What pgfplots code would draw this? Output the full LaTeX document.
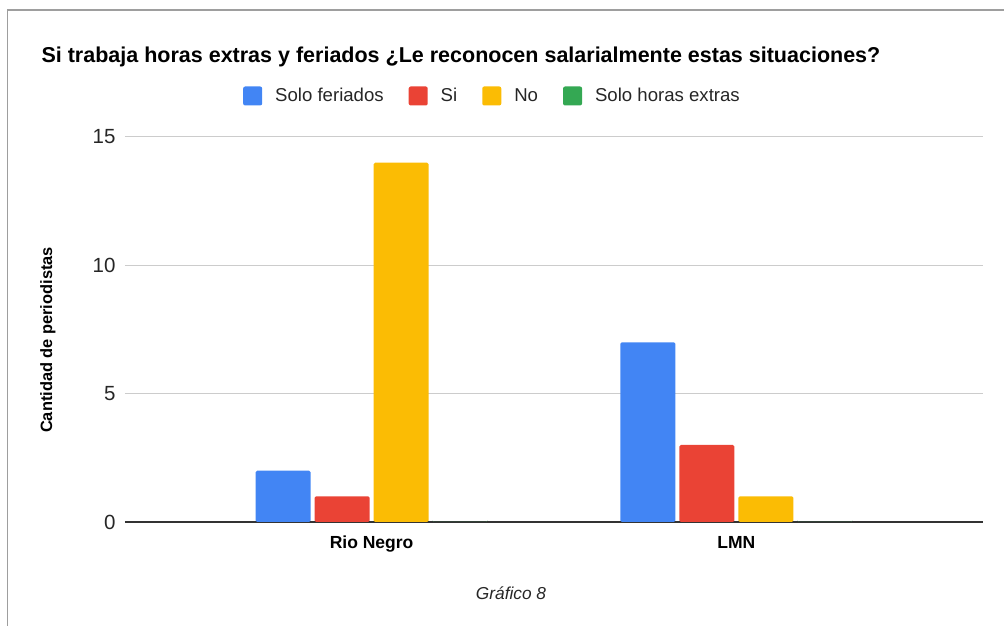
\documentclass[border=0pt]{standalone}
\usepackage{fontspec}
\setmainfont{Liberation Sans}
\usepackage{pgfplots}
\pgfplotsset{compat=1.18}

\definecolor{cblue}{HTML}{4285F4}
\definecolor{cred}{HTML}{EA4335}
\definecolor{cyellow}{HTML}{FBBC04}
\definecolor{cgreen}{HTML}{34A853}
\definecolor{gridgray}{HTML}{CCCCCC}
\definecolor{framegray}{HTML}{9E9E9E}

\pgfplotsset{
  sq legend/.style={legend image code/.code={%
    \path[##1, draw=none, rounded corners=2pt] (0pt,-9.5pt) rectangle (19pt,9.5pt);}},
}

\begin{document}
\begin{tikzpicture}
\useasboundingbox (0,0) rectangle (1004pt,626pt);
\draw[framegray, line width=1.5pt] (7.5pt,0) -- (7.5pt,616pt) -- (1004pt,616pt);

\begin{axis}[
  at={(125pt,104pt)}, anchor=south west,
  scale only axis,
  width=858pt, height=385pt,
  ybar=4pt, bar width=55pt,
  xmin=-0.676, xmax=1.676,
  ymin=0, ymax=15,
  xtick={0,1},
  xticklabels={Rio Negro, LMN},
  ytick={5,10,15},
  extra y ticks={0},
  extra y tick style={grid style={color=black!80, line width=1.5pt}},
  major tick length=0pt,
  ymajorgrids=true,
  grid style={gridgray, line width=1pt},
  axis line style={draw=none},
  /pgf/number format/assume math mode=true,
  tick label style={font=\fontsize{20.5}{24}\selectfont, text=black!85},
  xticklabel style={font=\fontsize{17.5}{20}\selectfont\bfseries, text=black, anchor=base, yshift=-27pt},
  yticklabel style={anchor=east, xshift=-6pt},
  title={Si trabaja horas extras y feriados ¿Le reconocen salarialmente estas situaciones?},
  every axis title/.style={at={(axis description cs:-0.1014,1.1922)}, anchor=base west,
    font=\fontsize{21.5}{25}\selectfont\bfseries},
  ylabel={Cantidad de periodistas},
  every axis y label/.style={at={(axis description cs:-0.0898,0.4727)}, rotate=90, anchor=center,
    font=\fontsize{16.4}{20}\selectfont\bfseries},
  xlabel={Gráfico 8},
  every axis x label/.style={at={(axis description cs:0.4499,-0.1844)}, anchor=center,
    font=\fontsize{17.3}{20}\selectfont\itshape, text=black!85},
  legend columns=4,
  legend style={at={(axis description cs:0.1375,1.1065)}, anchor=west,
    draw=none, fill=none, inner sep=0pt,
    nodes={inner sep=0pt, font=\fontsize{18.6}{22}\selectfont, text=black!85},
    /tikz/every odd column/.append style={column sep=13pt},
    /tikz/every even column/.append style={column sep=25pt}},
]
\addplot[fill=cblue, draw=none, rounded corners=1.5pt, sq legend] coordinates {(0,2) (1,7)};
\addplot[fill=cred, draw=none, rounded corners=1.5pt, sq legend] coordinates {(0,1) (1,3)};
\addplot[fill=cyellow, draw=none, rounded corners=1.5pt, sq legend] coordinates {(0,14) (1,1)};
\addplot[fill=cgreen, draw=none, rounded corners=1.5pt, sq legend] coordinates {(0,0) (1,0)};
\legend{Solo feriados, Si, No, Solo horas extras}
\end{axis}
\end{tikzpicture}
\end{document}
